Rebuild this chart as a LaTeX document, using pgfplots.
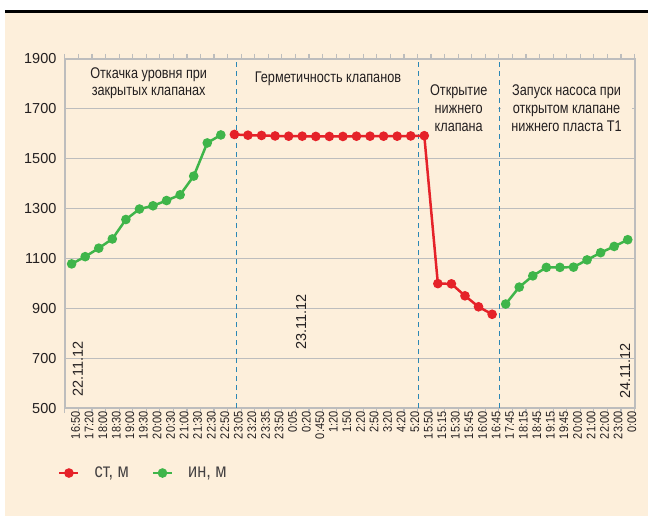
\documentclass[border=0pt]{standalone}
\usepackage{fontspec}
\setmainfont{Liberation Sans}
\newfontfamily\condfont{Liberation Sans}[FakeStretch=0.82]
\newfontfamily\tickfont{Liberation Sans}[FakeStretch=0.88]
\usepackage{pgfplots}
\usepackage{pgfplotstable}
\pgfplotsset{compat=1.18}

\definecolor{bgcream}{HTML}{FDEFDB}
\definecolor{redline}{HTML}{E52229}
\definecolor{greenline}{HTML}{3FB54A}
\definecolor{sepblue}{HTML}{2B87B5}
\definecolor{gridgray}{HTML}{BDBDBD}
\definecolor{txt}{HTML}{231F20}

% level, m (index of time category, value)
\pgfplotstableread{
idx val
12 1597
13 1594
14 1593
15 1591
16 1590
17 1590
18 1589
19 1589
20 1589
21 1590
22 1590
23 1590
24 1590
25 1591
26 1592
27 999
28 998
29 950
30 906
31 876
}\redtable

\pgfplotstableread{
idx val
0 1078
1 1107
2 1141
3 1178
4 1256
5 1298
6 1311
7 1332
8 1355
9 1430
10 1563
11 1595
12 nan
32 917
33 985
34 1030
35 1064
36 1064
37 1065
38 1094
39 1123
40 1148
41 1175
}\greentable

\begin{document}
\begin{tikzpicture}
\fill[white] (0,0) rectangle (649bp,-517bp);
\fill[bgcream] (5bp,-13bp) rectangle (649bp,-517bp);
\draw[black, line width=3bp] (5bp,-11.5bp) -- (649bp,-11.5bp);
\useasboundingbox (0,0) rectangle (649bp,-517bp);
\begin{axis}[
  at={(65bp,-409bp)}, anchor=south west,
  scale only axis, width=571bp, height=350bp,
  xmin=-0.5, xmax=41.5, ymin=500, ymax=1900,
  clip=false,
  unbounded coords=jump,
  xtick={0,...,41},
  xticklabels={16:50,17:20,18:00,18:30,19:00,19:30,20:00,20:30,21:00,21:30,22:30,22:50,
    23:05,23:20,23:35,23:50,0:05,0:20,0:450,1:20,1:50,2:20,2:50,3:20,4:20,5:20,
    15:50,15:15,15:30,15:45,16:00,16:45,
    17:45,18:15,18:45,19:15,19:45,20:00,21:00,22:00,23:00,0:00},
  minor xtick={-0.5,0.5,...,41.5},
  ytick={500,700,...,1900},
  major tick length=0pt,
  minor tick length=5bp,
  tick align=outside,
  every tick/.style={gridgray, line width=1.2bp},
  ymajorgrids,
  grid style={gridgray, line width=1.2bp},
  axis line style={gridgray, line width=2bp},
  x tick label style={rotate=90, anchor=east, yshift=-4bp, text=txt,
    font=\tickfont\fontsize{12.5bp}{12.5bp}\selectfont},
  y tick label style={text=txt, xshift=-5bp,
    font=\fontsize{14.5bp}{14.5bp}\selectfont},
  /pgf/number format/assume math mode=true,
  /pgf/number format/1000 sep={},
  legend columns=2,
  legend style={at={(axis description cs:-0.012,-0.186)}, anchor=west,
    draw=none, fill=none, inner sep=0pt,
    font=\condfont\fontsize{20bp}{20bp}\selectfont,
    text=txt!85,
    nodes={inner xsep=0pt},
    /tikz/every odd column/.append style={column sep=15bp},
    /tikz/every even column/.append style={column sep=23bp}},
  legend image code/.code={
    \draw[mark repeat=2, mark phase=2, #1]
      plot coordinates {(0bp,0bp) (9.5bp,0bp) (19bp,0bp)};},
]
\draw[sepblue, line width=1.2bp, dash pattern=on 5bp off 4bp]
  (axis cs:12.15,500) -- (axis cs:12.15,1900)
  (axis cs:25.55,500) -- (axis cs:25.55,1900)
  (axis cs:31.55,500) -- (axis cs:31.55,1900);

\addplot[redline, line width=2.5bp, mark=*, mark size=3.5bp,
  mark options={fill=redline, draw=redline}] table[x=idx, y=val] {\redtable};
\addlegendentry{ст, м}
\addplot[greenline, line width=2.5bp, mark=*, mark size=3.5bp,
  mark options={fill=greenline, draw=greenline}] table[x=idx, y=val] {\greentable};
\addlegendentry{ин, м}

\node[fill=bgcream, align=center, text=txt, inner sep=1bp,
  font=\condfont\fontsize{15.5bp}{17bp}\selectfont]
  at (axis cs:5.68,1804) {Откачка уровня при\\закрытых клапанах};
\node[fill=bgcream, align=center, text=txt, inner sep=1bp,
  font=\condfont\fontsize{15.5bp}{17bp}\selectfont]
  at (axis cs:18.9,1820) {Герметичность клапанов};
\node[fill=bgcream, align=center, text=txt, inner sep=1bp, minimum width=79bp,
  font=\condfont\fontsize{15.5bp}{18bp}\selectfont]
  at (axis cs:28.54,1704) {Открытие\\нижнего\\клапана};
\node[fill=bgcream, align=center, text=txt, inner sep=1bp, minimum width=132bp,
  font=\condfont\fontsize{15.5bp}{18bp}\selectfont]
  at (axis cs:36.49,1704) {Запуск насоса при\\открытом клапане\\нижнего пласта Т1};

\node[rotate=90, text=txt, font=\fontsize{14.5bp}{14.5bp}\selectfont]
  at (axis cs:0.46,656) {22.11.12};
\node[rotate=90, text=txt, font=\fontsize{14.5bp}{14.5bp}\selectfont]
  at (axis cs:16.93,844) {23.11.12};
\node[rotate=90, text=txt, font=\fontsize{14.5bp}{14.5bp}\selectfont]
  at (axis cs:40.8,648) {24.11.12};
\end{axis}
\end{tikzpicture}
\end{document}
